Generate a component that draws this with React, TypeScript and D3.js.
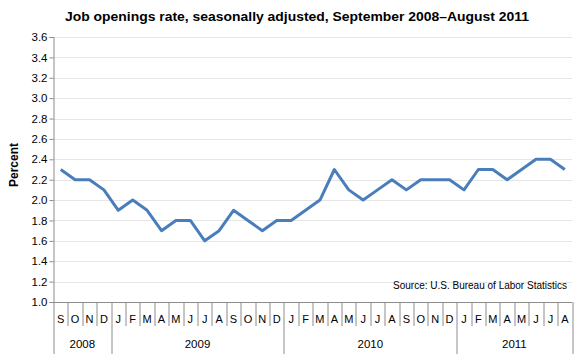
import React, {useEffect, useRef} from "react";
import * as d3 from "d3";

const months = ["S", "O", "N", "D",
    "J", "F", "M", "A", "M", "J", "J", "A", "S", "O", "N", "D",
    "J", "F", "M", "A", "M", "J", "J", "A", "S", "O", "N", "D",
    "J", "F", "M", "A", "M", "J", "J", "A"];
const rates = [2.3, 2.2, 2.2, 2.1,
    1.9, 2.0, 1.9, 1.7, 1.8, 1.8, 1.6, 1.7, 1.9, 1.8, 1.7, 1.8,
    1.8, 1.9, 2.0, 2.3, 2.1, 2.0, 2.1, 2.2, 2.1, 2.2, 2.2, 2.2,
    2.1, 2.3, 2.3, 2.2, 2.3, 2.4, 2.4, 2.3];
const years = ["2008", "2009", "2010", "2011"];
const yearStart = [0, 4, 16, 28]; // index of first month of each year
const yTicks = [1.0, 1.2, 1.4, 1.6, 1.8, 2.0, 2.2, 2.4, 2.6, 2.8, 3.0, 3.2, 3.4, 3.6];

const W = 580, H = 363;
const margin = {top: 37, right: 8, bottom: 61, left: 53.5};
const font = "'Liberation Sans', Arial, sans-serif";

export default function App()
{
    const ref = useRef<SVGSVGElement>(null);

    useEffect(() =>
    {
        const svg = d3.select(ref.current);
        svg.selectAll("*").remove();

        const plotW = W - margin.left - margin.right;
        const plotH = H - margin.top - margin.bottom;
        const idx = months.map((_, i) => i);

        const x = d3.scaleBand<number>().domain(idx).range([0, plotW]).padding(0);
        const y = d3.scaleLinear().domain([1.0, 3.6]).range([plotH, 0]);

        svg.append("rect").attr("width", W).attr("height", H).attr("fill", "#fff");

        svg.append("text")
            .attr("x", 297)
            .attr("y", 21)
            .attr("text-anchor", "middle")
            .attr("font-family", font)
            .attr("font-weight", "bold")
            .attr("font-size", 13)
            .attr("textLength", 464)
            .attr("lengthAdjust", "spacingAndGlyphs")
            .text("Job openings rate, seasonally adjusted, September 2008\u2013August 2011");

        const g = svg.append("g").attr("transform", `translate(${margin.left},${margin.top})`);

        // gridlines
        g.selectAll(".grid")
            .data(yTicks.slice(1))
            .enter()
            .append("line")
            .attr("x1", 0)
            .attr("x2", plotW)
            .attr("y1", (d) => Math.round(y(d)) + 0.5)
            .attr("y2", (d) => Math.round(y(d)) + 0.5)
            .attr("stroke", "#e6e6e6")
            .attr("stroke-width", 1);

        // y axis
        const yAxis = g.append("g")
            .call(d3.axisLeft(y).tickValues(yTicks).tickFormat(d3.format(".1f")).tickSize(4));
        yAxis.select(".domain").attr("stroke", "#8c8c8c");
        yAxis.selectAll(".tick line").attr("stroke", "#8c8c8c");
        yAxis.selectAll(".tick text")
            .attr("font-family", font)
            .attr("font-size", 11.5)
            .attr("fill", "#000")
            .attr("x", -6);

        // x axis: baseline, month dividers, year dividers
        g.append("line")
            .attr("x1", 0).attr("x2", plotW)
            .attr("y1", plotH + 0.5).attr("y2", plotH + 0.5)
            .attr("stroke", "#8c8c8c");

        g.selectAll(".mdiv")
            .data(idx.slice(1).concat([months.length]))
            .enter()
            .append("line")
            .attr("x1", (d) => Math.round(d < months.length ? x(d) : plotW) + 0.5)
            .attr("x2", (d) => Math.round(d < months.length ? x(d) : plotW) + 0.5)
            .attr("y1", plotH)
            .attr("y2", (d) => yearStart.includes(d) || d === months.length ? plotH + 52 : plotH + 24)
            .attr("stroke", "#8c8c8c");

        g.append("line")
            .attr("x1", 0.5).attr("x2", 0.5)
            .attr("y1", plotH).attr("y2", plotH + 52)
            .attr("stroke", "#8c8c8c");

        g.selectAll(".mlabel")
            .data(months)
            .enter()
            .append("text")
            .attr("x", (_, i) => x(i) + x.bandwidth() / 2)
            .attr("y", plotH + 21)
            .attr("text-anchor", "middle")
            .attr("font-family", font)
            .attr("font-size", 11)
            .text((d) => d);

        g.selectAll(".ylabel")
            .data(years)
            .enter()
            .append("text")
            .attr("x", (_, i) =>
            {
                const s = yearStart[i];
                const e = i < years.length - 1 ? yearStart[i + 1] : months.length;
                return x(s) + (e - s) * x.bandwidth() / 2;
            })
            .attr("y", plotH + 46)
            .attr("text-anchor", "middle")
            .attr("font-family", font)
            .attr("font-size", 11.5)
            .text((d) => d);

        // data line
        const line = d3.line<number>()
            .x((_, i) => x(i) + x.bandwidth() / 2)
            .y((d) => y(d));

        g.append("path")
            .datum(rates)
            .attr("fill", "none")
            .attr("stroke", "#4a7ebb")
            .attr("stroke-width", 3)
            .attr("stroke-linejoin", "round")
            .attr("d", line);

        g.append("text")
            .attr("x", plotW - 5)
            .attr("y", y(1.0) - 13)
            .attr("text-anchor", "end")
            .attr("font-family", font)
            .attr("font-size", 10)
            .text("Source: U.S. Bureau of Labor Statistics");

        svg.append("text")
            .attr("transform", "translate(18,165) rotate(-90)")
            .attr("text-anchor", "middle")
            .attr("font-family", font)
            .attr("font-weight", "bold")
            .attr("font-size", 12)
            .text("Percent");
    }, []);

    return <svg ref={ref} width={W} height={H} style={{position: "absolute", left: 0, top: 0}}></svg>;
}
